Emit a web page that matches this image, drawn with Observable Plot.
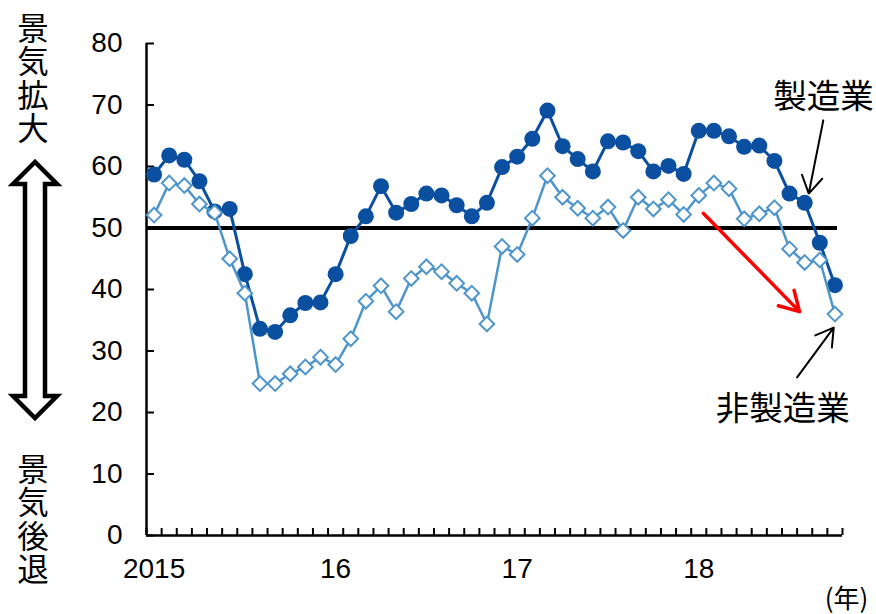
<!DOCTYPE html>
<html>
<head>
<meta charset="utf-8">
<script src="https://cdn.jsdelivr.net/npm/d3@7"></script>
<script src="https://cdn.jsdelivr.net/npm/@observablehq/plot@0.6"></script>
<style>
  html, body { margin: 0; padding: 0; background: #fff; }
  #chart { width: 876px; height: 614px; }
</style>
</head>
<body>
<div id="chart"></div>
<script>
// ---- data ----
const manufacturing = [
  58.7, 61.8, 61.1, 57.6, 52.7, 53.1, 42.5, 33.6, 33.1, 35.8, 37.8, 37.9,
  42.5, 48.7, 51.9, 56.8, 52.5, 53.9, 55.6, 55.3, 53.7, 51.9, 54.1, 59.9,
  61.6, 64.5, 69.1, 63.3, 61.2, 59.2, 64.1, 63.9, 62.5, 59.2, 60.1, 58.8,
  65.8, 65.8, 64.9, 63.2, 63.4, 60.9, 55.6, 54.1, 47.6, 40.7
];
const nonManufacturing = [
  52.1, 57.3, 56.9, 53.9, 52.5, 45.0, 39.4, 24.7, 24.7, 26.3, 27.4, 29.0,
  27.8, 32.0, 38.1, 40.6, 36.4, 41.8, 43.7, 42.9, 41.0, 39.4, 34.4, 47.0,
  45.7, 51.6, 58.5, 55.0, 53.2, 51.6, 53.4, 49.6, 55.0, 53.1, 54.6, 52.2,
  55.3, 57.3, 56.4, 51.5, 52.3, 53.3, 46.6, 44.4, 44.8, 36.0
];
const years = [2015, 2016, 2017, 2018];
const yearLabels = ["2015", "16", "17", "18"];
const yTicks = [0, 10, 20, 30, 40, 50, 60, 70, 80];
const threshold = 50;
const seriesNames = ["製造業", "非製造業"];
const upLabel = "景気拡大";
const downLabel = "景気後退";
const unitLabel = "(年)";

// annotation anchors in data coordinates (month index, DI value)
const labelPos = [
  {x: 44.25, y: 71.2, text: seriesNames[0]},
  {x: 41.55, y: 20.6, text: seriesNames[1]}
];
const blackArrows = [
  {x1: 44.23, y1: 67.5, x2: 43.27, y2: 55.6},
  {x1: 42.5, y1: 25.7, x2: 44.92, y2: 33.8}
];
const redArrow = [{x1: 36.3, y1: 52.4, x2: 42.66, y2: 36.4}];

// ---- build table ----
const months = [];
years.forEach(yr => { for (let m = 1; m <= 12; m++) months.push(`${yr}-${String(m).padStart(2, "0")}`); });
const n = manufacturing.length;
const mfg = manufacturing.map((v, i) => ({i, month: months[i], v}));
const non = nonManufacturing.map((v, i) => ({i, month: months[i], v}));
const boundaries = d3.range(n + 1).map(i => i - 0.5);
const yearPos = years.map((yr, k) => ({i: months.indexOf(`${yr}-01`), label: yearLabels[k]}));

const DARK = "#0b4fa0";
const LIGHT = "#4e95cc";
const JP = "'Noto Sans CJK JP', 'Noto Sans', sans-serif";
const NUM = "'Liberation Sans', Arial, sans-serif";

const W = 876, H = 614, ML = 146, MR = 34, MT = 43, MB = 79;
const plotW = W - ML - MR, plotH = H - MT - MB;

const chart = Plot.plot({
  width: W, height: H,
  marginLeft: ML, marginRight: MR, marginTop: MT, marginBottom: MB,
  x: {domain: [-0.5, n - 0.5], axis: null},
  y: {domain: [0, 80], axis: null},
  style: {background: "#fff", overflow: "visible"},
  marks: [
    // axes
    Plot.tickY(yTicks, {y: d => d, insetRight: plotW - 8, stroke: "#000", strokeWidth: 2}),
    Plot.tickX(boundaries, {x: d => d, insetTop: plotH - 7, stroke: "#000", strokeWidth: 2}),
    Plot.ruleX([-0.5], {stroke: "#000", strokeWidth: 2.5}),
    Plot.ruleY([0], {stroke: "#000", strokeWidth: 2.5}),
    Plot.text(yTicks, {y: d => d, text: d => String(d), frameAnchor: "left", dx: -24, textAnchor: "end",
      fontFamily: NUM, fontSize: 28, fill: "#000"}),
    Plot.text(yearPos, {x: "i", text: "label", frameAnchor: "bottom", dy: 34, lineAnchor: "middle",
      fontFamily: NUM, fontSize: 28, fill: "#000"}),
    // threshold line
    Plot.ruleY([threshold], {stroke: "#000", strokeWidth: 4, insetRight: 5}),
    // manufacturing
    Plot.line(mfg, {x: "i", y: "v", stroke: DARK, strokeWidth: 3}),
    Plot.dot(mfg, {x: "i", y: "v", r: 8, fill: DARK, stroke: "none"}),
    // non-manufacturing
    Plot.line(non, {x: "i", y: "v", stroke: LIGHT, strokeWidth: 2.5}),
    Plot.dot(non, {x: "i", y: "v", symbol: "diamond2", r: 6.6, fill: "#fff", stroke: LIGHT, strokeWidth: 2}),
    // annotations
    Plot.arrow(redArrow, {x1: "x1", y1: "y1", x2: "x2", y2: "y2", stroke: "#ff0000", strokeWidth: 3.5, headLength: 9.4, headAngle: 60}),
    Plot.arrow(blackArrows, {x1: "x1", y1: "y1", x2: "x2", y2: "y2", stroke: "#000", strokeWidth: 2, headLength: 15, headAngle: 62}),
    Plot.text(labelPos, {x: "x", y: "y", text: "text", fontFamily: JP, fontSize: 33.5, fill: "#000", lineAnchor: "middle"}),
    Plot.text([unitLabel], {frameAnchor: "bottom-right", dx: 4, dy: 72, textAnchor: "middle",
      fontFamily: JP, fontSize: 26, fill: "#000", lineAnchor: "bottom", letterSpacing: 3})
  ]
});

document.getElementById("chart").appendChild(chart);

const svg = d3.select(chart);

// vertical side labels (single vertical-writing text each)
[[upLabel, 12], [downLabel, 453]].forEach(([label, y0]) => {
  svg.append("text")
    .attr("x", 33).attr("y", y0)
    .attr("text-anchor", "start")
    .attr("font-family", JP).attr("font-size", 31.5)
    .attr("fill", "#000")
    .style("writing-mode", "vertical-rl")
    .style("text-orientation", "upright")
    .style("letter-spacing", "2px")
    .text(label);
});

// decorative outline double-headed arrow beside the y axis
const ax = 35, aTop = 162, aBot = 418, headH = 22, headHalf = 22, shaftHalf = 10;
svg.append("path")
  .attr("d", [
    [ax, aTop], [ax - headHalf, aTop + headH], [ax - shaftHalf, aTop + headH],
    [ax - shaftHalf, aBot - headH], [ax - headHalf, aBot - headH], [ax, aBot],
    [ax + headHalf, aBot - headH], [ax + shaftHalf, aBot - headH],
    [ax + shaftHalf, aTop + headH], [ax + headHalf, aTop + headH]
  ].map((p, k) => (k ? "L" : "M") + p[0] + "," + p[1]).join("") + "Z")
  .attr("fill", "#fff").attr("stroke", "#000").attr("stroke-width", 4.5).attr("stroke-linejoin", "miter");
</script>
</body>
</html>
